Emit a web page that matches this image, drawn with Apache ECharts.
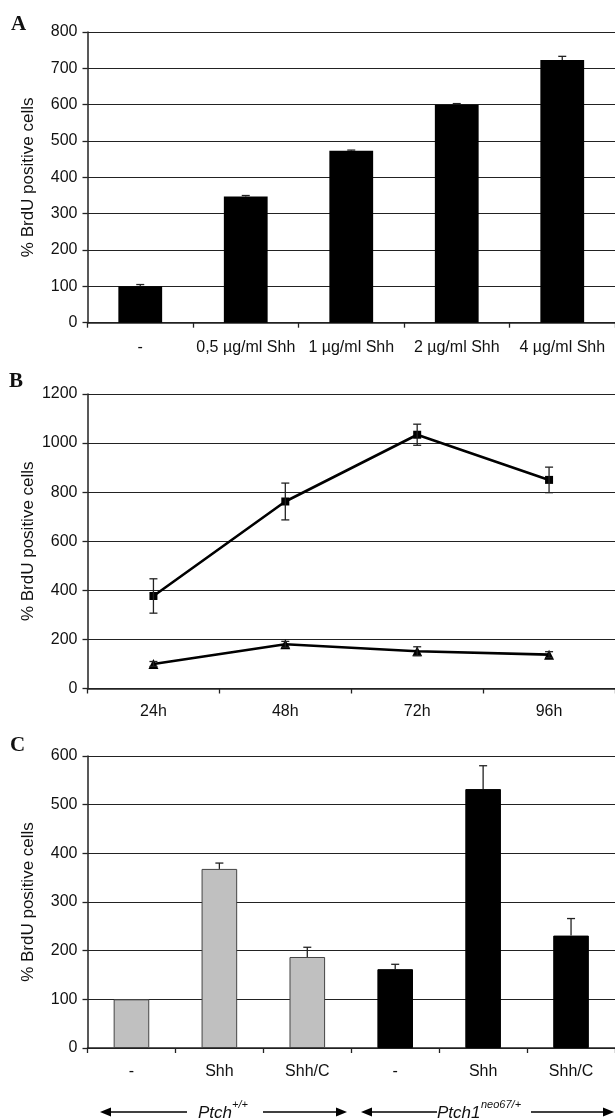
<!DOCTYPE html>
<html>
<head>
<meta charset="utf-8">
<script src="https://cdn.jsdelivr.net/npm/echarts@6/dist/echarts.min.js"></script>
<style>
html,body{margin:0;padding:0;background:#fff;}
#chart{width:615px;height:1120px;}
</style>
</head>
<body>
<div id="chart"></div>
<script>
// Panel A
const catA = ['-', '0,5 µg/ml Shh', '1 µg/ml Shh', '2 µg/ml Shh', '4 µg/ml Shh'];
const valA = [100, 347, 473, 600, 723];
const errA = [5, 3, 2, 3, 10];
// Panel B
const catB = ['24h', '48h', '72h', '96h'];
const squareB = [377, 762, 1034, 850];
const squareErrB = [70, 75, 43, 52];
const triangleB = [100, 180, 152, 138];
const triangleErrB = [10, 12, 18, 12];
// Panel C
const catC = ['-', 'Shh', 'Shh/C', '-', 'Shh', 'Shh/C'];
const valC = [100, 368, 187, 162, 532, 231];
const errC = [0, 12, 20, 10, 48, 35];
const groupC = ['wt', 'wt', 'wt', 'mut', 'mut', 'mut'];
// Y ticks
const ticksA = {min: 0, max: 800, interval: 100};
const ticksB = {min: 0, max: 1200, interval: 200};
const ticksC = {min: 0, max: 600, interval: 100};

const FONT = "'Liberation Sans', Arial, sans-serif";
const chart = echarts.init(document.getElementById('chart'), null, {renderer: 'canvas'});

function errRender(both) {
  return function (params, api) {
    const x = api.value(0), v = api.value(1), e = api.value(2);
    if (!e) return null;
    const top = api.coord([x, v + e]);
    const base = api.coord([x, both ? v - e : v]);
    const hw = 4;
    const st = {stroke: '#222', lineWidth: 1.3};
    const children = [
      {type: 'line', shape: {x1: top[0], y1: top[1], x2: base[0], y2: base[1]}, style: st},
      {type: 'line', shape: {x1: top[0] - hw, y1: top[1], x2: top[0] + hw, y2: top[1]}, style: st}
    ];
    if (both) children.push({type: 'line', shape: {x1: base[0] - hw, y1: base[1], x2: base[0] + hw, y2: base[1]}, style: st});
    return {type: 'group', children: children};
  };
}

function xAxis(idx, data, margin) {
  return {
    type: 'category', gridIndex: idx, data: data, boundaryGap: true,
    axisLine: {lineStyle: {color: '#222', width: 1.5}},
    axisTick: {show: true, length: 5, lineStyle: {color: '#222', width: 1.3}},
    axisLabel: {color: '#111', fontFamily: FONT, fontSize: 16, margin: margin, interval: 0}
  };
}
function yAxis(idx, t) {
  return {
    type: 'value', gridIndex: idx, min: t.min, max: t.max, interval: t.interval,
    name: '% BrdU positive cells', nameLocation: 'middle', nameGap: 51, nameRotate: 90,
    nameMoveOverlap: false,
    nameTextStyle: {color: '#111', fontFamily: FONT, fontSize: 17},
    axisLine: {show: true, lineStyle: {color: '#222', width: 1.5}},
    axisTick: {show: true, length: 5, lineStyle: {color: '#222', width: 1.3}},
    axisLabel: {color: '#111', fontFamily: FONT, fontSize: 16, margin: 10, formatter: v => String(v)},
    splitLine: {show: true, lineStyle: {color: '#222', width: 1.2}}
  };
}

const option = {
  animation: false,
  backgroundColor: '#fff',
  grid: [
    {left: 87.5, top: 32, width: 530, height: 290.7},
    {left: 87.5, top: 394, width: 530, height: 294.5},
    {left: 87.5, top: 756, width: 530, height: 292}
  ],
  xAxis: [xAxis(0, catA, 17), xAxis(1, catB, 15), xAxis(2, catC, 15.5)],
  yAxis: [yAxis(0, ticksA), yAxis(1, ticksB), yAxis(2, ticksC)],
  series: [
    {type: 'bar', xAxisIndex: 0, yAxisIndex: 0, barWidth: '41.5%', data: valA,
     itemStyle: {color: '#000'}},
    {type: 'custom', xAxisIndex: 0, yAxisIndex: 0, z: 5, renderItem: errRender(false),
     encode: {x: 0, y: 1}, data: valA.map((v, i) => [i, v, errA[i]])},

    {type: 'line', xAxisIndex: 1, yAxisIndex: 1, data: squareB, symbol: 'rect', symbolSize: 8,
     lineStyle: {color: '#000', width: 2.6}, itemStyle: {color: '#000'}},
    {type: 'line', xAxisIndex: 1, yAxisIndex: 1, data: triangleB, symbol: 'triangle', symbolSize: 10,
     lineStyle: {color: '#000', width: 2.6}, itemStyle: {color: '#000'}},
    {type: 'custom', xAxisIndex: 1, yAxisIndex: 1, z: 5, renderItem: errRender(true),
     encode: {x: 0, y: 1}, data: squareB.map((v, i) => [i, v, squareErrB[i]])},
    {type: 'custom', xAxisIndex: 1, yAxisIndex: 1, z: 5, renderItem: errRender(true),
     encode: {x: 0, y: 1}, data: triangleB.map((v, i) => [i, v, triangleErrB[i]])},

    {type: 'bar', xAxisIndex: 2, yAxisIndex: 2, barWidth: '40.5%',
     data: valC.map((v, i) => ({
       value: v,
       itemStyle: groupC[i] === 'wt'
         ? {color: '#c0c0c0', borderColor: '#444', borderWidth: 1}
         : {color: '#000', borderColor: '#000', borderWidth: 1}
     }))},
    {type: 'custom', xAxisIndex: 2, yAxisIndex: 2, z: 5, renderItem: errRender(false),
     encode: {x: 0, y: 1}, data: valC.map((v, i) => [i, v, errC[i]])}
  ],
  graphic: [
    {type: 'text', left: 11, top: 14, style: {text: 'A', font: "bold 21px 'Liberation Serif', 'Times New Roman', serif", fill: '#111'}},
    {type: 'text', left: 9, top: 371, style: {text: 'B', font: "bold 21px 'Liberation Serif', 'Times New Roman', serif", fill: '#111'}},
    {type: 'text', left: 10, top: 735, style: {text: 'C', font: "bold 21px 'Liberation Serif', 'Times New Roman', serif", fill: '#111'}},
    // left arrow
    {type: 'line', shape: {x1: 108, y1: 1112, x2: 187, y2: 1112}, style: {stroke: '#000', lineWidth: 1.6}},
    {type: 'line', shape: {x1: 263, y1: 1112, x2: 338, y2: 1112}, style: {stroke: '#000', lineWidth: 1.6}},
    {type: 'polygon', shape: {points: [[100, 1112], [111, 1107.5], [111, 1116.5]]}, style: {fill: '#000'}},
    {type: 'polygon', shape: {points: [[347, 1112], [336, 1107.5], [336, 1116.5]]}, style: {fill: '#000'}},
    {type: 'text', x: 198, y: 1113, style: {text: 'Ptch', font: "italic 17px 'Liberation Sans', Arial, sans-serif", fill: '#111', verticalAlign: 'middle'}},
    {type: 'text', x: 232, y: 1105, style: {text: '+/+', font: "italic 11px 'Liberation Sans', Arial, sans-serif", fill: '#111', verticalAlign: 'middle'}},
    // right arrow
    {type: 'line', shape: {x1: 370, y1: 1112, x2: 437, y2: 1112}, style: {stroke: '#000', lineWidth: 1.6}},
    {type: 'line', shape: {x1: 531, y1: 1112, x2: 605, y2: 1112}, style: {stroke: '#000', lineWidth: 1.6}},
    {type: 'polygon', shape: {points: [[361, 1112], [372, 1107.5], [372, 1116.5]]}, style: {fill: '#000'}},
    {type: 'polygon', shape: {points: [[614, 1112], [603, 1107.5], [603, 1116.5]]}, style: {fill: '#000'}},
    {type: 'text', x: 437, y: 1113, style: {text: 'Ptch1', font: "italic 17px 'Liberation Sans', Arial, sans-serif", fill: '#111', verticalAlign: 'middle'}},
    {type: 'text', x: 481, y: 1105, style: {text: 'neo67/+', font: "italic 11px 'Liberation Sans', Arial, sans-serif", fill: '#111', verticalAlign: 'middle'}}
  ]
};
chart.setOption(option);
</script>
</body>
</html>
